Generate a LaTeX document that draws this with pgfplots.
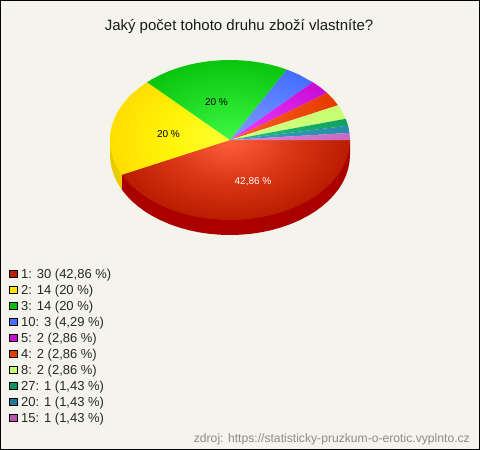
\documentclass[border=0pt]{standalone}
\usepackage{pgfplots}
\pgfplotsset{compat=1.18}
\usepackage{fontspec}
\setmainfont{Liberation Sans}
\definecolor{bg}{RGB}{245,244,236}
\definecolor{foot}{RGB}{140,140,132}
\definecolor{sideR}{RGB}{170,0,0}
\definecolor{sideY}{RGB}{232,204,0}
\definecolor{swR}{RGB}{190,30,0}
\definecolor{swY}{RGB}{255,230,0}
\definecolor{swG}{RGB}{10,190,10}
\definecolor{swB}{RGB}{70,110,255}
\definecolor{swP}{RGB}{200,10,210}
\definecolor{swO}{RGB}{230,60,0}
\definecolor{swL}{RGB}{200,255,110}
\definecolor{swS}{RGB}{10,150,90}
\definecolor{swT}{RGB}{30,120,150}
\definecolor{swK}{RGB}{185,85,175}
\tikzset{legtxt/.style={anchor=west,inner sep=0pt,font=\fontsize{13}{15}\selectfont,text=black!85}}
\pgfdeclareradialshading{pieR}{\pgfpoint{0bp}{0bp}}{rgb(0bp)=(1,.37,.24);rgb(12.5bp)=(.86,.22,.09);rgb(25bp)=(.73,.11,0);rgb(50bp)=(.73,.11,0)}
\pgfdeclareradialshading{pieY}{\pgfpoint{0bp}{0bp}}{rgb(0bp)=(1,1,.20);rgb(12.5bp)=(1,.96,.04);rgb(25bp)=(1,.87,0);rgb(50bp)=(1,.87,0)}
\pgfdeclareradialshading{pieG}{\pgfpoint{0bp}{0bp}}{rgb(0bp)=(.24,.98,.26);rgb(25bp)=(.04,.77,.05);rgb(50bp)=(.04,.77,.05)}
\pgfdeclareradialshading{pieB}{\pgfpoint{0bp}{0bp}}{rgb(0bp)=(.50,.62,1);rgb(25bp)=(.27,.43,1);rgb(50bp)=(.27,.43,1)}
\pgfdeclareradialshading{pieP}{\pgfpoint{0bp}{0bp}}{rgb(0bp)=(.95,.25,1);rgb(25bp)=(.78,.05,.84);rgb(50bp)=(.78,.05,.84)}
\pgfdeclareradialshading{pieO}{\pgfpoint{0bp}{0bp}}{rgb(0bp)=(1,.38,.15);rgb(25bp)=(.90,.23,0);rgb(50bp)=(.90,.23,0)}
\pgfdeclareradialshading{pieL}{\pgfpoint{0bp}{0bp}}{rgb(0bp)=(.82,1,.55);rgb(25bp)=(.78,1,.43);rgb(50bp)=(.78,1,.43)}
\pgfdeclareradialshading{pieS}{\pgfpoint{0bp}{0bp}}{rgb(0bp)=(.14,.75,.48);rgb(25bp)=(.06,.63,.38);rgb(50bp)=(.06,.63,.38)}
\pgfdeclareradialshading{pieT}{\pgfpoint{0bp}{0bp}}{rgb(0bp)=(.22,.62,.74);rgb(25bp)=(.15,.55,.66);rgb(50bp)=(.15,.55,.66)}
\pgfdeclareradialshading{pieK}{\pgfpoint{0bp}{0bp}}{rgb(0bp)=(.86,.52,.86);rgb(25bp)=(.78,.42,.76);rgb(50bp)=(.78,.42,.76)}
\begin{document}
\begin{tikzpicture}
\begin{axis}[
  width=480pt,height=450pt,scale only axis,hide axis,
  xmin=0,xmax=480,ymin=0,ymax=450,y dir=reverse,
  unbounded coords=jump,
  every axis plot/.append style={no markers},
]
% background
\addplot[fill=bg,draw=none] coordinates {(0,0)(480,0)(480,450)(0,450)} --cycle;
% side walls
\addplot[fill=sideR,draw=none] coordinates {(350,140)(350,155)(349.5,162)(348.2,168.9)(345.9,175.7)(342.8,182.4)(338.8,188.8)(333.9,195)(328.3,200.9)(321.9,206.4)(314.9,211.6)(307.1,216.3)(298.8,220.5)(290,224.3)(280.7,227.5)(271,230.2)(261.1,232.3)(250.8,233.8)(240.5,234.7)(230,235)(219.5,234.7)(209.2,233.8)(198.9,232.3)(189,230.2)(179.3,227.5)(170,224.3)(161.2,220.5)(152.9,216.3)(145.1,211.6)(138.1,206.4)(131.7,200.9)(126.1,195)(121.9,189.7)(121.9,174.7)(230,140)} --cycle;
\addplot[fill=sideY,draw=none] coordinates {(121.9,174.7)(121.9,189.7)(117.2,182.4)(114.1,175.7)(111.8,168.9)(110.5,162)(110,155)(110,140)(230,140)} --cycle;
% top slices: the two isolated first points only stretch the bounding box, so all share one radial centre
\addplot[shade,shading=pieR,draw=none] coordinates {(110,60)(nan,nan)(350,220)(nan,nan)(230,140)(350,140)(349.5,147)(348.2,153.9)(345.9,160.7)(342.8,167.4)(338.8,173.8)(333.9,180)(328.3,185.9)(321.9,191.4)(314.9,196.6)(307.1,201.3)(298.8,205.5)(290,209.3)(280.7,212.5)(271,215.2)(261.1,217.3)(250.8,218.8)(240.5,219.7)(230,220)(219.5,219.7)(209.2,218.8)(198.9,217.3)(189,215.2)(179.3,212.5)(170,209.3)(161.2,205.5)(152.9,201.3)(145.1,196.6)(138.1,191.4)(131.7,185.9)(126.1,180)(121.9,174.7)} --cycle;
\addplot[shade,shading=pieY,draw=none] coordinates {(110,60)(nan,nan)(350,220)(nan,nan)(230,140)(121.9,174.7)(117.2,167.4)(114.1,160.7)(111.8,153.9)(110.5,147)(110,140)(110.5,133)(111.8,126.1)(114.1,119.3)(117.2,112.6)(121.2,106.2)(126.1,100)(131.7,94.1)(138.1,88.6)(147.1,82.2)} --cycle;
\addplot[shade,shading=pieG,draw=none] coordinates {(110,60)(nan,nan)(350,220)(nan,nan)(230,140)(147.1,82.2)(152.9,78.7)(161.2,74.5)(170,70.7)(179.3,67.5)(189,64.8)(198.9,62.7)(209.2,61.2)(219.5,60.3)(230,60)(240.5,60.3)(250.8,61.2)(261.1,62.7)(271,64.8)(280.7,67.5)(286.9,69.6)} --cycle;
\addplot[shade,shading=pieB,draw=none] coordinates {(110,60)(nan,nan)(350,220)(nan,nan)(230,140)(286.9,69.6)(298.8,74.5)(306,78.6)(312.9,82.2)} --cycle;
\addplot[shade,shading=pieP,draw=none] coordinates {(110,60)(nan,nan)(350,220)(nan,nan)(230,140)(312.9,82.2)(320.6,87.5)(327.1,93)} --cycle;
\addplot[shade,shading=pieO,draw=none] coordinates {(110,60)(nan,nan)(350,220)(nan,nan)(230,140)(327.1,93)(332.9,98.8)(338.1,105.3)} --cycle;
\addplot[shade,shading=pieL,draw=none] coordinates {(110,60)(nan,nan)(350,220)(nan,nan)(230,140)(338.1,105.3)(342.3,111.9)(345.7,118.8)} --cycle;
\addplot[shade,shading=pieS,draw=none] coordinates {(110,60)(nan,nan)(350,220)(nan,nan)(230,140)(345.7,118.8)(348.1,125.7)} --cycle;
\addplot[shade,shading=pieT,draw=none] coordinates {(110,60)(nan,nan)(350,220)(nan,nan)(230,140)(348.1,125.7)(349.5,132.9)} --cycle;
\addplot[shade,shading=pieK,draw=none] coordinates {(110,60)(nan,nan)(350,220)(nan,nan)(230,140)(349.5,132.9)(350,140)} --cycle;
% legend swatches
\addplot[fill=swR,draw=black,line width=.8pt] coordinates {(9.5,270.5)(17.5,270.5)(17.5,277.5)(9.5,277.5)} --cycle;
\addplot[fill=swY,draw=black,line width=.8pt] coordinates {(9.5,286.5)(17.5,286.5)(17.5,293.5)(9.5,293.5)} --cycle;
\addplot[fill=swG,draw=black,line width=.8pt] coordinates {(9.5,302.5)(17.5,302.5)(17.5,309.5)(9.5,309.5)} --cycle;
\addplot[fill=swB,draw=black,line width=.8pt] coordinates {(9.5,318.5)(17.5,318.5)(17.5,325.5)(9.5,325.5)} --cycle;
\addplot[fill=swP,draw=black,line width=.8pt] coordinates {(9.5,334.5)(17.5,334.5)(17.5,341.5)(9.5,341.5)} --cycle;
\addplot[fill=swO,draw=black,line width=.8pt] coordinates {(9.5,350.5)(17.5,350.5)(17.5,357.5)(9.5,357.5)} --cycle;
\addplot[fill=swL,draw=black,line width=.8pt] coordinates {(9.5,366.5)(17.5,366.5)(17.5,373.5)(9.5,373.5)} --cycle;
\addplot[fill=swS,draw=black,line width=.8pt] coordinates {(9.5,382.5)(17.5,382.5)(17.5,389.5)(9.5,389.5)} --cycle;
\addplot[fill=swT,draw=black,line width=.8pt] coordinates {(9.5,398.5)(17.5,398.5)(17.5,405.5)(9.5,405.5)} --cycle;
\addplot[fill=swK,draw=black,line width=.8pt] coordinates {(9.5,414.5)(17.5,414.5)(17.5,421.5)(9.5,421.5)} --cycle;
% frame
\addplot[draw=black,line width=1pt] coordinates {(.5,.5)(479.5,.5)(479.5,449.5)(.5,449.5)} --cycle;
% texts
\node[font=\fontsize{15}{17}\selectfont,text=black!90] at (axis cs:239,27) {Jaký počet tohoto druhu zboží vlastníte?};
\node[font=\fontsize{10}{12}\selectfont,text=white] at (axis cs:253,182) {42,86 \%};
\node[font=\fontsize{10}{12}\selectfont,text=black] at (axis cs:168.5,134) {20 \%};
\node[font=\fontsize{10}{12}\selectfont,text=black] at (axis cs:216.5,102) {20 \%};
\node[legtxt] at (axis cs:21,275.5) {1: 30 (42,86 \%)};
\node[legtxt] at (axis cs:21,291.5) {2: 14 (20 \%)};
\node[legtxt] at (axis cs:21,307.5) {3: 14 (20 \%)};
\node[legtxt] at (axis cs:21,323.5) {10: 3 (4,29 \%)};
\node[legtxt] at (axis cs:21,339.5) {5: 2 (2,86 \%)};
\node[legtxt] at (axis cs:21,355.5) {4: 2 (2,86 \%)};
\node[legtxt] at (axis cs:21,371.5) {8: 2 (2,86 \%)};
\node[legtxt] at (axis cs:21,387.5) {27: 1 (1,43 \%)};
\node[legtxt] at (axis cs:21,403.5) {20: 1 (1,43 \%)};
\node[legtxt] at (axis cs:21,419.5) {15: 1 (1,43 \%)};
\node[anchor=east,inner sep=0pt,font=\fontsize{12.15}{14}\selectfont,text=foot] at (axis cs:470,439) {zdroj: https://statisticky-pruzkum-o-erotic.vyplnto.cz};
\end{axis}
\end{tikzpicture}
\end{document}
